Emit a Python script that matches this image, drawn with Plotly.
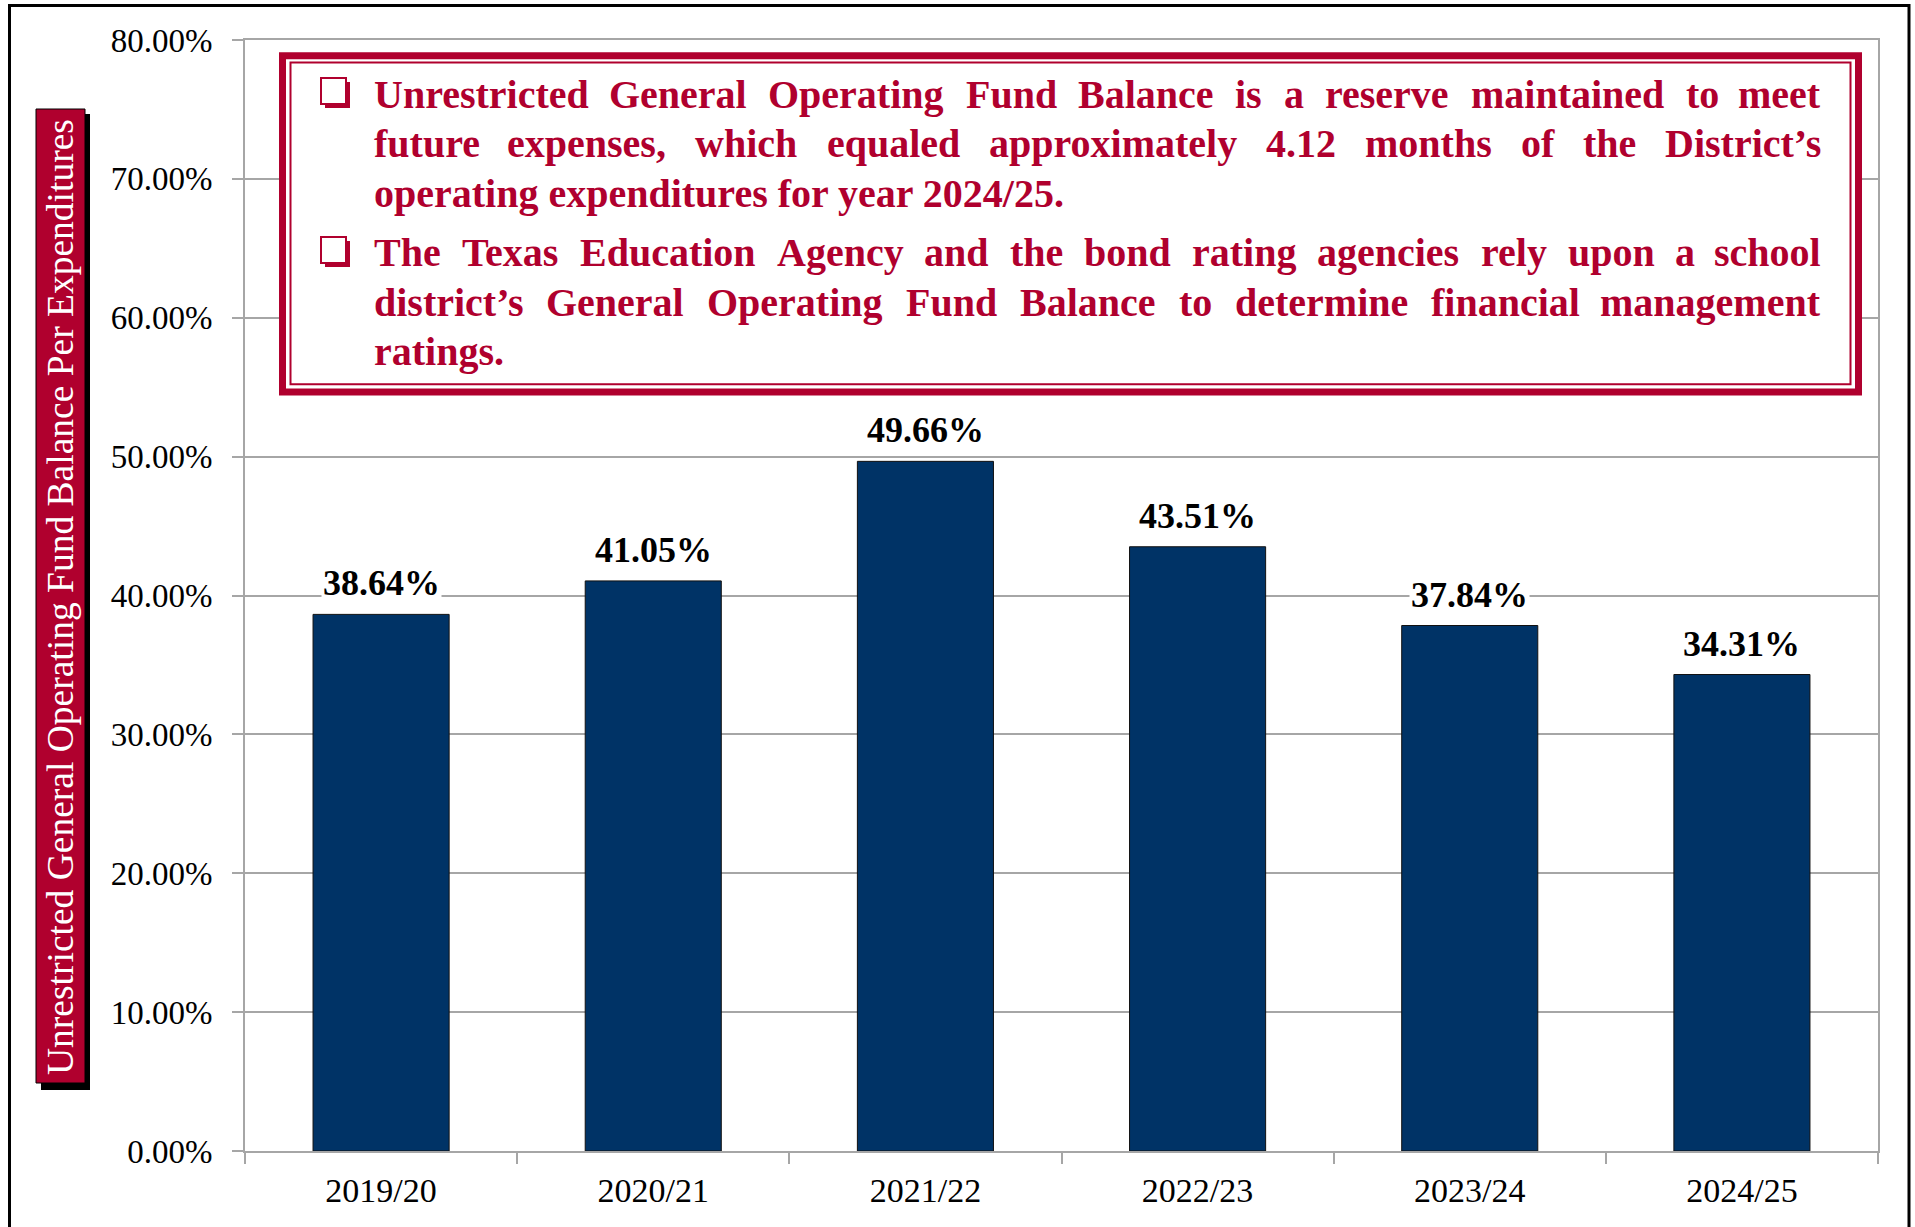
import plotly.graph_objects as go

# ---------------- data ----------------
categories = ["2019/20", "2020/21", "2021/22", "2022/23", "2023/24", "2024/25"]
values = [38.64, 41.05, 49.66, 43.51, 37.84, 34.31]
y_ticks = [0, 10, 20, 30, 40, 50, 60, 70, 80]
y_tick_labels = [f"{v:.2f}%" for v in y_ticks]
y_title = "Unrestricted General Operating Fund Balance Per Expenditures"
note_lines = [
    "Unrestricted General Operating Fund Balance is a reserve maintained to meet",
    "future expenses, which equaled approximately 4.12 months of the District\u2019s",
    "operating expenditures for year 2024/25.",
    "The Texas Education Agency and the bond rating agencies rely upon a school",
    "district\u2019s General Operating Fund Balance to determine financial management",
    "ratings.",
]

# ---------------- style ----------------
RED = "#B0002E"
NAVY = "#003366"
GRID = "#A6A6A6"
FONT = "Liberation Serif"
W, H = 1915, 1227
L, R, T, B = 245, 1878, 40, 1151


def px(x):
    return (x - L) / (R - L)


def py(y):
    return (B - y) / (B - T)


# Times-Bold advance widths (per 1000 em) used for justified layout
TB = {' ': 250, ',': 250, '.': 250, '/': 278, '\u2019': 333, "'": 333, '%': 1000}
for c in "0123456789":
    TB[c] = 500
TB.update(dict(zip("ABCDEFGHIJKLMNOPQRSTUVWXYZ",
                   [722, 667, 722, 722, 667, 611, 778, 778, 389, 500, 778, 667, 944,
                    722, 778, 611, 778, 722, 556, 667, 722, 722, 1000, 722, 722, 667])))
TB.update(dict(zip("abcdefghijklmnopqrstuvwxyz",
                   [500, 556, 444, 556, 444, 333, 500, 556, 278, 333, 556, 278, 833,
                    556, 500, 556, 556, 444, 389, 333, 556, 500, 722, 500, 500, 444])))


def word_w(w, size):
    return sum(TB.get(c, 500) for c in w) * size / 1000.0


fig = go.Figure(
    go.Bar(
        x=categories,
        y=values,
        marker=dict(color=NAVY, line=dict(color="#111111", width=1)),
        hoverinfo="skip",
    )
)

annotations = []
# data labels
for c, v in zip(categories, values):
    annotations.append(dict(
        x=c, y=v, xref="x", yref="y", text=f"{v:.2f}%", showarrow=False,
        yanchor="bottom", yshift=9, bgcolor="white", borderpad=1,
        font=dict(family=FONT, size=36, color="black", weight="bold"),
    ))

# y axis title (white on red box)
annotations.append(dict(
    x=px(60), y=py(597), xref="paper", yref="paper", text=y_title,
    showarrow=False, textangle=-90, xanchor="center", yanchor="middle",
    font=dict(family=FONT, size=37.5, color="white"),
))

# note text, justified word by word
FS = 40
X0, X1 = 372, 1823
baselines = [108, 157, 207, 266, 316, 365]
justified = [True, True, False, True, True, False]
nfont = dict(family=FONT, size=FS, color=RED, weight="bold")
for line, base, just in zip(note_lines, baselines, justified):
    yc = py(base - 0.3375 * FS)
    if not just:
        annotations.append(dict(x=px(X0), y=yc, xref="paper", yref="paper", text=line,
                                showarrow=False, xanchor="left", yanchor="middle",
                                font=nfont))
        continue
    words = line.split(" ")
    widths = [word_w(w, FS) for w in words]
    gap = (X1 - X0 - sum(widths)) / (len(words) - 1)
    pos = X0
    for i, (w, ww) in enumerate(zip(words, widths)):
        if i == 0:
            x, anc = pos, "left"
        elif i == len(words) - 1:
            x, anc = X1, "right"
        else:
            x, anc = pos + ww / 2, "center"
        annotations.append(dict(x=px(x), y=yc, xref="paper", yref="paper", text=w,
                                showarrow=False, xanchor=anc, yanchor="middle",
                                font=nfont))
        pos += ww + gap


def rect(x0, y0, x1, y1, **kw):
    d = dict(type="rect", xref="paper", yref="paper",
             x0=px(x0), x1=px(x1), y0=py(y0), y1=py(y1), layer="above")
    d.update(kw)
    return d


shapes = [
    # outer frame
    rect(9.5, 5.5, 1909, 1240, line=dict(color="black", width=3)),
    # y-title box with shadow
    rect(41, 114, 90, 1090, fillcolor="black", line=dict(width=0)),
    rect(36, 109, 85, 1083, fillcolor=RED, line=dict(color="black", width=1)),
    # note box: thick outer + thin inner
    rect(282.5, 55.8, 1858.5, 392, fillcolor="white", line=dict(color=RED, width=7)),
    rect(290.5, 62.5, 1850.5, 384.2, line=dict(color=RED, width=2)),
]
# bullets (drop-shadowed squares)
for top in (78, 237):
    shapes.append(rect(325, top + 4, 350, top + 30, fillcolor=RED, line=dict(width=0)))
    shapes.append(rect(321, top, 346, top + 26, fillcolor="white",
                       line=dict(color=RED, width=2)))

fig.update_layout(
    width=W, height=H,
    margin=dict(l=L, r=W - R, t=T, b=H - B, pad=0),
    paper_bgcolor="white", plot_bgcolor="white",
    showlegend=False,
    bargap=0.5,
    annotations=annotations,
    shapes=shapes,
    xaxis=dict(
        type="category", showgrid=False, showline=True, linecolor=GRID, linewidth=2,
        mirror=True, ticks="outside", tickson="boundaries", ticklen=11, tickwidth=2,
        tickcolor=GRID, ticklabelstandoff=8,
        tickfont=dict(family=FONT, size=34, color="black"),
    ),
    yaxis=dict(
        range=[0, 80], tickmode="array", tickvals=y_ticks, ticktext=y_tick_labels,
        showgrid=True, gridcolor=GRID, gridwidth=1.5, zeroline=False,
        showline=True, linecolor=GRID, linewidth=2, mirror=True,
        ticks="outside", ticklen=11, tickwidth=2, tickcolor=GRID,
        ticklabelstandoff=13,
        tickfont=dict(family=FONT, size=33, color="black"),
    ),
)

fig.write_html("out.html", config={"displayModeBar": False},
               post_script="document.body.style.margin='0';document.body.style.overflow='hidden';")
